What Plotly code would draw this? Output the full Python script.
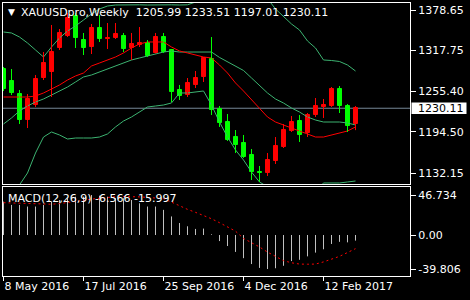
import plotly.graph_objects as go

# ---------------- data ----------------
weeks = ["2016-05-08", "2016-05-15", "2016-05-22", "2016-05-29", "2016-06-05", "2016-06-12",
         "2016-06-19", "2016-06-26", "2016-07-03", "2016-07-10", "2016-07-17", "2016-07-24",
         "2016-07-31", "2016-08-07", "2016-08-14", "2016-08-21", "2016-08-28", "2016-09-04",
         "2016-09-11", "2016-09-18", "2016-09-25", "2016-10-02", "2016-10-09", "2016-10-16",
         "2016-10-23", "2016-10-30", "2016-11-06", "2016-11-13", "2016-11-20", "2016-11-27",
         "2016-12-04", "2016-12-11", "2016-12-18", "2016-12-25", "2017-01-01", "2017-01-08",
         "2017-01-15", "2017-01-22", "2017-01-29", "2017-02-05", "2017-02-12", "2017-02-19",
         "2017-02-26", "2017-03-05", "2017-03-12"]

opens = [1289.4, 1271.3, 1251.6, 1212.3, 1235.0, 1275.8, 1284.9, 1321.2, 1339.3, 1369.6,
         1333.3, 1322.7, 1351.4, 1334.8, 1336.3, 1339.3, 1321.2, 1325.7, 1328.8, 1313.6,
         1337.8, 1318.2, 1257.7, 1250.1, 1265.3, 1277.4, 1304.6, 1229.0, 1209.3, 1186.6,
         1177.6, 1159.4, 1133.7, 1132.2, 1150.3, 1171.5, 1195.7, 1210.8, 1192.7, 1219.9,
         1232.0, 1233.5, 1259.2, 1233.5, 1205.99]
highs = [1292.5, 1289.4, 1257.7, 1251.6, 1280.4, 1315.1, 1356.0, 1349.9, 1374.1, 1374.1,
         1343.9, 1357.5, 1371.1, 1359.0, 1359.0, 1343.9, 1343.9, 1352.9, 1333.3, 1343.9,
         1343.9, 1319.7, 1265.3, 1275.8, 1286.4, 1307.6, 1337.8, 1233.5, 1221.4, 1197.2,
         1189.7, 1168.5, 1142.8, 1162.4, 1186.6, 1206.3, 1218.4, 1219.9, 1222.9, 1245.6,
         1244.1, 1262.2, 1263.7, 1236.5, 1233.51]
lows = [1256.2, 1250.1, 1206.3, 1200.2, 1232.0, 1272.8, 1247.1, 1318.2, 1337.8, 1321.2,
        1310.6, 1312.1, 1330.3, 1319.7, 1334.8, 1315.1, 1303.1, 1322.7, 1307.6, 1312.9,
        1313.6, 1239.5, 1242.6, 1247.1, 1260.7, 1269.8, 1219.9, 1201.8, 1180.6, 1162.4,
        1154.9, 1121.6, 1118.6, 1127.7, 1145.8, 1170.0, 1194.2, 1179.1, 1186.6, 1216.9,
        1215.4, 1232.0, 1222.9, 1194.2, 1197.01]
closes = [1259.2, 1253.2, 1212.3, 1244.1, 1274.3, 1298.5, 1315.1, 1343.9, 1366.6, 1336.3,
          1321.2, 1351.4, 1334.8, 1336.3, 1342.4, 1319.7, 1327.2, 1328.8, 1309.1, 1337.8,
          1315.1, 1254.7, 1248.6, 1268.3, 1275.8, 1306.1, 1227.5, 1207.8, 1182.1, 1174.5,
          1156.4, 1133.7, 1132.9, 1151.9, 1173.0, 1197.2, 1209.3, 1189.7, 1219.9, 1233.5,
          1235.0, 1259.2, 1233.5, 1203.3, 1230.11]

bb_upper = [1345.4, 1343.9, 1337.8, 1328.8, 1318.2, 1307.6, 1322.7, 1336.3, 1346.9, 1354.5,
            1363.5, 1372.6, 1380.2, 1384.7, 1386.2, 1386.5, 1386.8, 1386.5, 1386.2, 1386.5,
            1386.8, 1386.5, 1386.2, 1386.5, 1390.7, 1394.0, 1397.0, 1405.0, 1414.0, 1419.0,
            1420.0, 1420.0, 1410.0, 1396.0, 1380.2, 1369.6, 1357.5, 1348.4, 1331.8, 1321.2,
            1303.1, 1302.3, 1300.8, 1295.5, 1286.4]
bb_mid = [1206.3, 1215.4, 1226.0, 1233.5, 1239.5, 1244.1, 1250.1, 1256.2, 1262.2, 1269.8,
          1277.4, 1280.4, 1284.9, 1289.4, 1294.0, 1298.5, 1303.1, 1306.1, 1309.1, 1312.1,
          1315.1, 1316.7, 1315.1, 1315.1, 1315.1, 1315.1, 1315.1, 1306.9, 1300.0, 1294.0,
          1287.2, 1275.9, 1263.8, 1253.2, 1244.1, 1238.0, 1230.5, 1224.4, 1216.9, 1212.3,
          1209.3, 1209.3, 1209.3, 1207.8, 1204.8]
bb_lower = [1067.2, 1086.9, 1114.2, 1132.2, 1162.4, 1186.6, 1194.2, 1189.7, 1183.6, 1185.1,
            1185.1, 1185.1, 1186.6, 1191.2, 1201.8, 1210.8, 1216.9, 1224.5, 1232.0, 1233.5,
            1235.0, 1238.1, 1253.2, 1253.2, 1254.7, 1256.2, 1235.0, 1209.3, 1186.6, 1167.0,
            1151.9, 1133.7, 1118.6, 1111.4, 1108.0, 1106.4, 1103.5, 1100.4, 1102.0, 1103.4,
            1117.1, 1117.1, 1117.1, 1118.6, 1120.1]
ma_red = [1247.1, 1247.1, 1247.1, 1247.1, 1248.6, 1253.2, 1259.2, 1265.3, 1272.8, 1278.9,
          1283.4, 1294.0, 1298.5, 1303.1, 1307.6, 1313.7, 1321.2, 1327.3, 1330.3, 1330.3,
          1330.3, 1322.7, 1316.7, 1313.7, 1310.6, 1307.6, 1306.1, 1295.5, 1283.4, 1268.3,
          1256.2, 1242.6, 1230.5, 1216.9, 1209.3, 1204.8, 1200.3, 1195.7, 1191.2, 1186.6,
          1186.6, 1189.7, 1192.7, 1195.7, 1201.8]

macd_main = [39.0, 35.2, 35.2, 33.3, 33.3, 35.2, 39.0, 40.9, 42.9, 44.8,
             44.8, 46.734, 46.0, 44.8, 42.9, 42.9, 40.9, 37.1, 33.3, 33.3,
             29.4, 21.7, 14.0, 10.2, 7.1, 7.5, 0.8, -7.1, -12.9, -19.8,
             -27.1, -34.0, -38.5, -39.806, -38.9, -36.0, -30.5, -29.0, -25.0, -20.6,
             -16.7, -10.5, -8.0, -8.6, -6.566]
macd_signal = [37.8, 37.5, 37.0, 36.5, 36.0, 35.8, 36.0, 36.8, 37.8, 39.0,
               40.5, 42.0, 43.2, 44.2, 44.8, 45.0, 45.0, 44.6, 44.0, 43.5,
               42.5, 38.5, 34.0, 30.0, 26.5, 23.0, 19.0, 14.4, 9.8, 4.5,
               -4.0, -9.0, -14.0, -20.0, -25.5, -30.0, -32.5, -34.0, -34.2, -34.0,
               -31.5, -28.5, -25.0, -20.5, -15.997]

price_ticks = [1378.65, 1317.75, 1255.40, 1194.50, 1132.15]
price_tick_text = ["1378.65", "1317.75", "1255.40", "1194.50", "1132.15"]
macd_ticks = [46.734, 0.0, -39.806]
macd_tick_text = ["46.734", "0.00", "-39.806"]
date_tick_idx = [0, 10, 20, 30, 40]
date_tick_text = ["8 May 2016", "17 Jul 2016", "25 Sep 2016", "4 Dec 2016", "12 Feb 2017"]

symbol_title = "XAUUSDpro,Weekly"
macd_title = "MACD(12,26,9)"

# ---------------- figure ----------------
W, H = 470, 300
BULL, BEAR = "#FF0000", "#00FF00"
BAND = "#3CB371"
FONT = "DejaVu Sans"

idx = list(range(len(weeks)))
up = [c >= o for o, c in zip(opens, closes)]
cols = [BULL if u else BEAR for u in up]

fig = go.Figure()

# Bid line
last_close = closes[-1]
fig.add_shape(type="line", xref="x domain", yref="y", x0=0, x1=1, y0=last_close, y1=last_close,
              line=dict(color="#778899", width=1), layer="below")

# Bollinger bands and red MA
for arr, col in [(bb_upper, BAND), (bb_mid, BAND), (bb_lower, BAND), (ma_red, "#FF0000")]:
    fig.add_trace(go.Scatter(x=idx, y=arr, mode="lines", line=dict(color=col, width=1),
                             hoverinfo="skip", xaxis="x", yaxis="y"))

# wicks
for want, col in [(True, BULL), (False, BEAR)]:
    wx, wy = [], []
    for i in idx:
        if up[i] == want:
            wx += [i, i, None]
            wy += [lows[i], highs[i], None]
    fig.add_trace(go.Scatter(x=wx, y=wy, mode="lines", line=dict(color=col, width=1),
                             hoverinfo="skip", xaxis="x", yaxis="y"))

# bodies
fig.add_trace(go.Bar(x=idx, y=[abs(c - o) for o, c in zip(opens, closes)],
                     base=[min(o, c) for o, c in zip(opens, closes)],
                     width=0.5, marker=dict(color=cols, line=dict(color=cols, width=1)),
                     hoverinfo="skip", xaxis="x", yaxis="y"))

# MACD histogram (thin vertical lines)
hx, hy = [], []
for i, v in zip(idx, macd_main):
    hx += [i, i, None]
    hy += [0, v, None]
fig.add_trace(go.Scatter(x=hx, y=hy, mode="lines", line=dict(color="#C0C0C0", width=1),
                         hoverinfo="skip", xaxis="x2", yaxis="y2"))
fig.add_trace(go.Scatter(x=idx, y=macd_signal, mode="lines",
                         line=dict(color="#FF0000", width=1, dash="2px,3px"),
                         hoverinfo="skip", xaxis="x2", yaxis="y2"))

# geometry (pixels -> paper)
left_px, right_px = 3, 410
main_top, main_bot = 3, 184
macd_top, macd_bot = 187, 276
xdom = [left_px / W, right_px / W]
x0 = -0.0625
x1 = x0 + (right_px - left_px) / 8.0

px_per_price = 1.512
p_top = 1378.65 + (10 - main_top) * px_per_price
p_bot = 1378.65 - (main_bot - 10) * px_per_price

m_scale = 1.17
m_top = (235 - macd_top) * m_scale
m_bot = -(macd_bot - 235) * m_scale

axis_common = dict(showgrid=False, zeroline=False, showline=True, mirror=True,
                   linecolor="white", linewidth=1)

fig.update_layout(
    width=W, height=H, margin=dict(l=0, r=0, t=0, b=0),
    paper_bgcolor="black", plot_bgcolor="black", showlegend=False,
    font=dict(family=FONT, size=11, color="white"),
    bargap=0,
    xaxis=dict(domain=xdom, range=[x0, x1], anchor="y", showticklabels=False, ticks="",
               **axis_common),
    yaxis=dict(domain=[1 - main_bot / H, 1 - main_top / H], range=[p_bot, p_top], anchor="x",
               side="right", tickvals=price_ticks, ticktext=price_tick_text,
               ticks="outside", ticklen=5, tickcolor="white", tickwidth=1,
               tickfont=dict(family=FONT, size=11, color="white"), **axis_common),
    xaxis2=dict(domain=xdom, range=[x0, x1], anchor="y2", tickvals=date_tick_idx,
                ticktext=date_tick_text, ticks="outside", ticklen=4, tickcolor="white",
                ticklabelposition="outside right",
                tickfont=dict(family=FONT, size=11, color="white"), **axis_common),
    yaxis2=dict(domain=[1 - macd_bot / H, 1 - macd_top / H], range=[m_bot, m_top], anchor="x2",
                side="right", tickvals=macd_ticks, ticktext=macd_tick_text,
                ticks="outside", ticklen=5, tickcolor="white", tickwidth=1,
                tickfont=dict(family=FONT, size=11, color="white"), **axis_common),
)

# current price label box
box_half = 5.8 * px_per_price
fig.add_shape(type="rect", xref="paper", yref="y", x0=411.5 / W, x1=466.5 / W,
              y0=last_close - box_half, y1=last_close + box_half,
              fillcolor="white", line=dict(width=0), layer="above")
fig.add_annotation(xref="paper", yref="y", x=417 / W, y=last_close, xanchor="left",
                   yanchor="middle", text=f"{last_close:.2f}", showarrow=False, borderpad=0,
                   font=dict(family=FONT, size=11, color="black"))

# header texts
fig.add_annotation(xref="paper", yref="paper", x=11 / W, y=1 - 12 / H, xanchor="center",
                   yanchor="middle", text="\u25BC", showarrow=False, borderpad=0,
                   font=dict(family=FONT, size=9, color="white"))
hdr = symbol_title + "\u00a0\u00a0" + " ".join(
    f"{v:.2f}" for v in [opens[-1], highs[-1], lows[-1], closes[-1]])
fig.add_annotation(xref="paper", yref="paper", x=20 / W, y=1 - 12.5 / H, xanchor="left",
                   yanchor="middle", text=hdr, showarrow=False, borderpad=0,
                   font=dict(family=FONT, size=11, color="white"))
mtxt = f"{macd_title} {macd_main[-1]:.3f} {macd_signal[-1]:.3f}"
fig.add_annotation(xref="paper", yref="paper", x=7 / W, y=1 - 198 / H, xanchor="left",
                   yanchor="middle", text=mtxt, showarrow=False, borderpad=0,
                   font=dict(family=FONT, size=11, color="white"))

fig.write_html("out.html")
